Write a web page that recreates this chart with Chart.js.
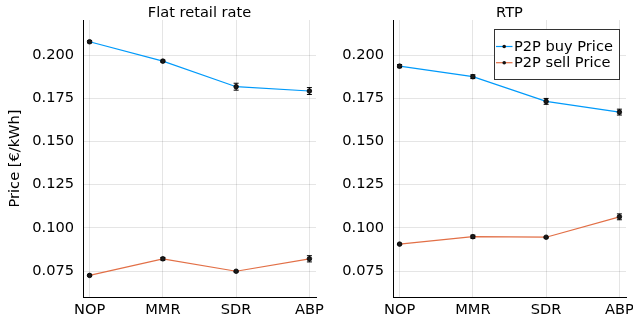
<!DOCTYPE html>
<html>
<head>
<meta charset="utf-8">
<script src="https://cdn.jsdelivr.net/npm/chart.js@4.4.1/dist/chart.umd.min.js"></script>
<style>
  html, body { margin: 0; padding: 0; background: #fff; overflow: hidden; width: 633px; height: 324px; }
  #left { position: absolute; left: 0; top: 0; }
  #right { position: absolute; left: 330px; top: 0; }
</style>
</head>
<body>
<canvas id="left" width="330" height="324"></canvas>
<canvas id="right" width="310" height="324"></canvas>
<script>
// Data
const categories = ['NOP', 'MMR', 'SDR', 'ABP'];
const yTicks = [0.075, 0.100, 0.125, 0.150, 0.175, 0.200];

const flatBuy = [0.2077, 0.1965, 0.1817, 0.1792];
const flatBuyErr = [0.0006, 0.0006, 0.0020, 0.0020];
const flatSell = [0.0725, 0.0821, 0.0749, 0.0821];
const flatSellErr = [0.0004, 0.0008, 0.0004, 0.0018];

const rtpBuy = [0.1936, 0.1875, 0.1732, 0.1670];
const rtpBuyErr = [0.0009, 0.0011, 0.0017, 0.0017];
const rtpSell = [0.0906, 0.0949, 0.0946, 0.1064];
const rtpSellErr = [0.0003, 0.0009, 0.0004, 0.0017];

const seriesNames = ['P2P buy Price', 'P2P sell Price'];
const colors = ['#009AFA', '#E26F46'];
const FONT = 'DejaVu Sans';
const FS = 14.6;

function toPoints(values) {
    return values.map((v, i) => ({ x: i, y: v }));
}

// error bars, drawn under the lines and markers
const errorBars = {
    id: 'errorBars',
    beforeDatasetsDraw(chart) {
        const ctx = chart.ctx;
        const xs = chart.scales.x, ys = chart.scales.y;
        ctx.save();
        ctx.strokeStyle = '#000';
        ctx.lineWidth = 1;
        chart.data.datasets.forEach(ds => {
            ds.data.forEach((p, i) => {
                const e = ds.errors[i];
                const x = xs.getPixelForValue(p.x);
                const y1 = ys.getPixelForValue(p.y - e);
                const y2 = ys.getPixelForValue(p.y + e);
                ctx.beginPath();
                ctx.moveTo(x, y1); ctx.lineTo(x, y2);
                ctx.moveTo(x - 2.5, y1); ctx.lineTo(x + 2.5, y1);
                ctx.moveTo(x - 2.5, y2); ctx.lineTo(x + 2.5, y2);
                ctx.stroke();
            });
        });
        ctx.restore();
    }
};

// panel title centred over the plot area
const panelTitle = {
    id: 'panelTitle',
    afterDraw(chart, args, opts) {
        const ctx = chart.ctx;
        const a = chart.chartArea;
        ctx.save();
        ctx.font = FS + 'px "' + FONT + '"';
        ctx.fillStyle = '#000';
        ctx.textAlign = 'center';
        ctx.textBaseline = 'alphabetic';
        ctx.fillText(opts.text, (a.left + a.right) / 2, 16.5);
        ctx.restore();
    }
};

// boxed legend like the reference
const boxLegend = {
    id: 'boxLegend',
    afterDraw(chart, args, opts) {
        if (!opts.show) return;
        const ctx = chart.ctx;
        const bx = 164, by = 29.5, bw = 125, bh = 50;
        ctx.save();
        ctx.fillStyle = '#fff';
        ctx.fillRect(bx, by, bw, bh);
        ctx.strokeStyle = '#333';
        ctx.lineWidth = 1;
        ctx.strokeRect(bx + 0.5, by, bw, bh);
        ctx.font = FS + 'px "' + FONT + '"';
        ctx.textBaseline = 'middle';
        ctx.textAlign = 'left';
        seriesNames.forEach((name, i) => {
            const y = 46.5 + i * 16.2;
            ctx.strokeStyle = colors[i];
            ctx.lineWidth = 1.2;
            ctx.beginPath();
            ctx.moveTo(166, y); ctx.lineTo(182.5, y);
            ctx.stroke();
            ctx.fillStyle = '#111';
            ctx.beginPath();
            ctx.arc(174.2, y, 1.8, 0, Math.PI * 2);
            ctx.fill();
            ctx.fillStyle = '#000';
            ctx.fillText(name, 184, y + 0.5);
        });
        ctx.restore();
    }
};

function makeChart(id, title, buy, buyErr, sell, sellErr, yAxisWidth, showYTitle, showLegend) {
    const ds = (vals, errs, i) => ({
        label: seriesNames[i],
        data: toPoints(vals),
        errors: errs,
        borderColor: colors[i],
        borderWidth: 1.2,
        pointRadius: 2.3,
        pointBackgroundColor: '#1a1a1a',
        pointBorderColor: '#000',
        pointBorderWidth: 0.8,
        tension: 0
    });
    return new Chart(document.getElementById(id), {
        type: 'line',
        data: { datasets: [ds(buy, buyErr, 0), ds(sell, sellErr, 1)] },
        options: {
            responsive: false,
            animation: false,
            layout: { padding: { top: 20, right: 14, left: 0, bottom: 0 } },
            plugins: {
                legend: { display: false },
                tooltip: { enabled: false },
                panelTitle: { text: title },
                boxLegend: { show: showLegend }
            },
            scales: {
                x: {
                    type: 'linear',
                    min: -0.09,
                    max: 3.09,
                    afterBuildTicks: s => { s.ticks = categories.map((c, i) => ({ value: i })); },
                    afterFit: s => { s.height = 27; },
                    ticks: {
                        callback: v => categories[v],
                        font: { family: FONT, size: FS },
                        color: '#000',
                        padding: 4,
                        maxRotation: 0
                    },
                    grid: { color: 'rgba(0,0,0,0.1)', drawTicks: false },
                    border: { color: '#000', width: 1 }
                },
                y: {
                    min: 0.06,
                    max: 0.2203,
                    afterBuildTicks: s => { s.ticks = yTicks.map(v => ({ value: v })); },
                    afterFit: s => { s.width = yAxisWidth; },
                    ticks: {
                        callback: v => v.toFixed(3),
                        font: { family: FONT, size: FS },
                        color: '#000',
                        padding: 9
                    },
                    grid: { color: 'rgba(0,0,0,0.1)', drawTicks: false },
                    border: { color: '#000', width: 1 },
                    title: {
                        display: showYTitle,
                        text: 'Price [€/kWh]',
                        font: { family: FONT, size: FS },
                        color: '#000',
                        padding: { top: 6, bottom: 0 }
                    }
                }
            }
        },
        plugins: [errorBars, panelTitle, boxLegend]
    });
}

makeChart('left', 'Flat retail rate', flatBuy, flatBuyErr, flatSell, flatSellErr, 83, true, false);
makeChart('right', 'RTP', rtpBuy, rtpBuyErr, rtpSell, rtpSellErr, 63, false, true);
</script>
</body>
</html>
